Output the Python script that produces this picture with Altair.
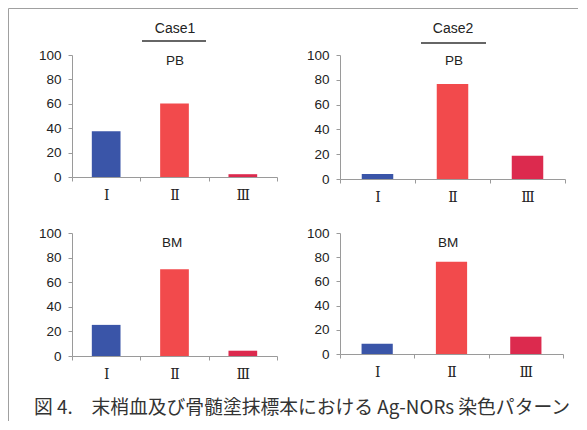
import altair as alt
import pandas as pd

categories = ["Ⅰ", "Ⅱ", "Ⅲ"]
case1_pb = [37.4, 60.2, 2.3]
case2_pb = [4.0, 76.6, 18.8]
case1_bm = [25.3, 70.5, 4.3]
case2_bm = [8.5, 76.3, 14.3]
bar_colors = ["#3a55a8", "#f24a4c", "#dc2a4e"]
case_titles = ["Case1", "Case2"]
sample_titles = ["PB", "BM"]
caption = "図 4.\u3000末梢血及び骨髄塗抹標本における Ag-NORs 染色パターン"

AX_COLOR = "#9a9a9a"
TXT = "#222222"


def panel(values, w, h, sample, sample_xy, case=None, case_xy=None, uline=None,
          extra=None):
    df = pd.DataFrame({"cat": categories, "val": values})
    base = alt.Chart(df)
    bars = base.mark_bar(width=alt.RelativeBandSize(0.42)).encode(
        x=alt.X("cat:N", sort=categories, title=None,
                scale=alt.Scale(paddingInner=0, paddingOuter=0),
                axis=alt.Axis(labelAngle=0, tickBand="extent", tickSize=4,
                              labelFont="DejaVu Serif", labelFontSize=14,
                              labelColor=TXT, labelPadding=7,
                              domainColor=AX_COLOR, tickColor=AX_COLOR)),
        y=alt.Y("val:Q", title=None,
                scale=alt.Scale(domain=[0, 100], nice=False),
                axis=alt.Axis(values=[0, 20, 40, 60, 80, 100], grid=False,
                              tickSize=4, labelFont="Liberation Sans",
                              labelFontSize=13.5, labelColor=TXT,
                              labelPadding=7, domainColor=AX_COLOR,
                              tickColor=AX_COLOR)),
        color=alt.Color("cat:N", sort=categories, legend=None,
                        scale=alt.Scale(domain=categories, range=bar_colors)),
    )
    layers = [bars]
    one = alt.Chart(pd.DataFrame({"t": [sample]}))
    layers.append(one.mark_text(font="Liberation Sans", fontSize=13.5,
                                color=TXT, baseline="middle").encode(
        text="t:N", x=alt.value(sample_xy[0]), y=alt.value(sample_xy[1])))
    if case is not None:
        c = alt.Chart(pd.DataFrame({"t": [case]}))
        layers.append(c.mark_text(font="Liberation Sans", fontSize=14,
                                  color=TXT, baseline="middle").encode(
            text="t:N", x=alt.value(case_xy[0]), y=alt.value(case_xy[1])))
        layers.append(c.mark_rule(color="#333333", strokeWidth=1.6).encode(
            x=alt.value(uline[0]), x2=alt.value(uline[1]),
            y=alt.value(uline[2])))
    if extra:
        layers.extend(extra)
    return alt.layer(*layers).properties(width=w, height=h)


k = alt.Chart(pd.DataFrame({"k": [0]}))
border = [
    k.mark_rule(color="#a0a0a0", strokeWidth=1).encode(
        x=alt.value(-63.5), x2=alt.value(506), y=alt.value(-46.5)),
    k.mark_rule(color="#a0a0a0", strokeWidth=1).encode(
        x=alt.value(-63.5), y=alt.value(-46.5), y2=alt.value(366)),
]
cap = [
    alt.Chart(pd.DataFrame({"t": [caption]})).mark_text(
        font="Noto Sans CJK JP", fontSize=18.8, color="#333333",
        align="left", baseline="middle").encode(
        text="t:N", x=alt.value(-38), y=alt.value(175))
]

p1 = panel(case1_pb, 205, 122, sample_titles[0], (103, 6), case_titles[0],
           (103, -26), (70, 134, -14), extra=border)
p2 = panel(case2_pb, 225, 124, sample_titles[0], (114, 6), case_titles[1],
           (113, -26), (81, 146, -12))
p3 = panel(case1_bm, 205, 123, sample_titles[1], (100, 10), extra=cap)
p4 = panel(case2_bm, 223, 121, sample_titles[1], (108, 10))

chart = alt.concat(p1, p2, p3, p4, columns=2, bounds="flush",
                   spacing={"row": 54, "column": 63}).properties(
    autosize=alt.AutoSizeParams(type="none"),
    padding={"left": 64, "top": 47, "right": 506, "bottom": 366},
).configure_view(stroke=None)

chart.save("out.html", embed_options={"renderer": "svg", "actions": False})
